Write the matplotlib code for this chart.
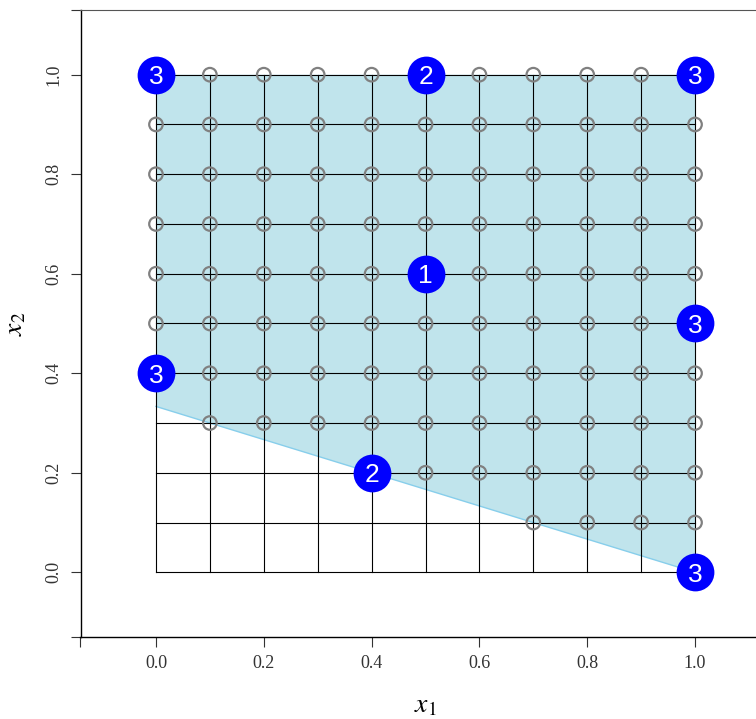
import matplotlib.pyplot as plt
import numpy as np

plt.rcParams['mathtext.fontset'] = 'stix'

# grid of candidate points (step 0.1)
grid = np.round(np.arange(0, 1.01, 0.1), 1)

# feasible region: x1 + 3*x2 >= 1 inside the unit square
region_x = [0.0, 1.0, 1.0, 0.0]
region_y = [1/3, 0.0, 1.0, 1.0]

# labelled points
lab_x = [0.0, 1.0, 0.5, 0.5, 1.0, 0.0, 0.4, 1.0]
lab_y = [1.0, 1.0, 1.0, 0.6, 0.5, 0.4, 0.2, 0.0]
lab_txt = ['3', '3', '2', '1', '3', '3', '2', '3']

xlim = (-0.14, 1.14)
ylim = (-0.13, 1.13)

fig = plt.figure(figsize=(7.56, 7.19), dpi=100)
ax = fig.add_axes([80.5 / 756, 82 / 719, (770.5 - 80.5) / 756, (637 - 10) / 719])
ax.set_xlim(*xlim)
ax.set_ylim(*ylim)

ax.fill(region_x, region_y, color='#c0e4ec', lw=0, zorder=1)
ax.plot([0, 1], [1/3, 0], color='#87ceeb', lw=1, zorder=2)

# grid lines
for g in grid:
    ax.plot([g, g], [0, 1], color='black', lw=0.8, zorder=3)
    ax.plot([0, 1], [g, g], color='black', lw=0.8, zorder=3)

# feasible grid points
gx, gy = np.meshgrid(grid, grid)
gx, gy = gx.ravel(), gy.ravel()
ok = gx * 10 + 30 * gy >= 10 - 1e-9
ax.scatter(gx[ok], gy[ok], s=95, facecolors='none', edgecolors='#808080',
           linewidths=1.6, zorder=4)

ax.scatter(lab_x, lab_y, s=740, color='#0000ff', lw=0, zorder=5)
for x, y, t in zip(lab_x, lab_y, lab_txt):
    ax.text(x, y, t, color='white', ha='center', va='center_baseline',
            fontsize=19, family='Liberation Sans', zorder=6)

ticks = [0.0, 0.2, 0.4, 0.6, 0.8, 1.0]
ax.set_xticks([xlim[0]] + ticks + [xlim[1]])
ax.set_xticklabels([''] + ['%.1f' % t for t in ticks] + [''])
ax.set_yticks([ylim[0]] + ticks + [ylim[1]])
ax.set_yticklabels([''] + ['%.1f' % t for t in ticks] + [''],
                   rotation=90, va='center')
ax.tick_params(length=7, width=0.8, pad=6, labelsize=13, color='#333333')
for lab in ax.get_xticklabels() + ax.get_yticklabels():
    lab.set_family('Liberation Serif')
    lab.set_color('#333333')

ax.spines['right'].set_visible(False)
ax.spines['top'].set_color('#555555')
for s in ['left', 'bottom']:
    ax.spines[s].set_linewidth(1.0)

ax.set_xlabel(r'$x_1$', fontsize=20, labelpad=13)
ax.set_ylabel(r'$x_2$', fontsize=20, labelpad=12)

fig.savefig('out.png', dpi=100)
